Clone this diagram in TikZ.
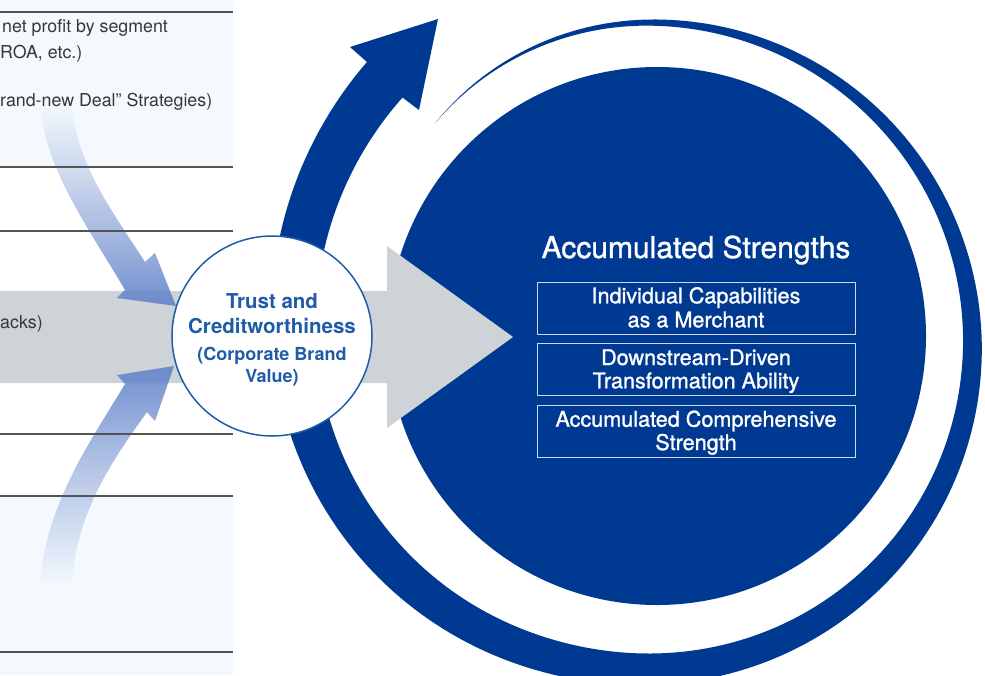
\documentclass[tikz,border=0pt]{standalone}
\usepackage{fontspec}
\setmainfont{TeX Gyre Heros}
\newfontfamily\medfont[FakeBold=1.2]{TeX Gyre Heros}
\usetikzlibrary{fadings}

\definecolor{deepblue}{RGB}{0,57,145}
\definecolor{trustblue}{RGB}{30,92,168}
\definecolor{shaftgray}{RGB}{205,211,214}
\definecolor{panelblue}{RGB}{244,249,254}
\definecolor{rulegray}{RGB}{85,85,85}
\definecolor{textgray}{RGB}{55,55,55}
\definecolor{flowblue}{RGB}{98,132,202}
\definecolor{boxline}{RGB}{205,214,236}

\tikzfading[name=fadeup, top color=transparent!100, bottom color=transparent!10]
\tikzfading[name=fadedown, top color=transparent!10, bottom color=transparent!100]

\begin{document}
\begin{tikzpicture}[x=1pt, y=-1pt,
  declare function={
    % spiral band: mid radius and width, by angle (clockwise from east)
    ramp(\t)=max(\t-105,-100);
    grow(\t)=0.22*(ramp(\t)+sqrt(ramp(\t)*ramp(\t)+400));
    lead(\t)=max(0,-90-\t);
    rmid(\t)=322+grow(\t)-0.007*lead(\t)*lead(\t);
    thk(\t)=0.14*(\t+134);
  },
  panel/.style={fill=panelblue},
  rowrule/.style={draw=rulegray, line width=1.3pt},
  sidetext/.style={anchor=base west, inner sep=0, text=textgray,
    font=\fontsize{17.8}{20}\selectfont},
  trusttext/.style={anchor=base, inner sep=0, text=trustblue,
    font=\bfseries\fontsize{20.5}{24}\selectfont},
  brandtext/.style={anchor=base, inner sep=0, text=trustblue,
    font=\bfseries\fontsize{18}{22}\selectfont},
  strbox/.style={draw=boxline, line width=0.9pt, minimum width=318,
    minimum height=52, inner sep=0},
  strtext/.style={anchor=base, inner sep=0, text=white,
    font=\medfont\fontsize{21.6}{24}\selectfont},
  flow/.style={fill=flowblue}
]
\useasboundingbox (0,0) rectangle (985,675);
\clip (0,0) rectangle (985,675);

% left-hand list panels
\fill[panel] (0,0) rectangle (233,167);
\fill[panel] (0,496) rectangle (233,675);

% spiral band with arrowhead around the core
\fill[deepblue]
  plot[domain=-134:225, samples=240, variable=\a]
    ({650+(rmid(\a)+thk(\a)/2)*cos(\a)},{345+(rmid(\a)+thk(\a)/2)*sin(\a)})
  -- (350,47) -- (438,19) -- (419,110)
  -- plot[domain=225:-134, samples=240, variable=\a]
    ({650+(rmid(\a)-thk(\a)/2)*cos(\a)},{345+(rmid(\a)-thk(\a)/2)*sin(\a)})
  -- cycle;

% core circle
\node[circle, fill=deepblue, minimum size=538, inner sep=0] (core) at (657,336) {};

% broad grey arrow into the core
\fill[shaftgray] (0,291) -- (387,291) -- (387,246) -- (513,337)
  -- (387,428) -- (387,383) -- (0,383) -- cycle;

% curved inflow arrows
\fill[flow, path fading=fadeup]
  (40,105) .. controls (45,170) and (90,230) .. (125,290)
  -- (117,298) -- (176,306) -- (155,253) -- (145,262)
  .. controls (115,215) and (76,165) .. (72,105) -- cycle;
\fill[flow, path fading=fadedown]
  (40,585) .. controls (45,505) and (90,442) .. (125,384)
  -- (117,375) -- (174,366) -- (155,421) -- (147,412)
  .. controls (115,457) and (76,510) .. (72,585) -- cycle;

% trust node
\node[circle, draw=trustblue, line width=1.5pt, fill=white,
  minimum size=200, inner sep=0] (trust) at (272,336) {};
\node[trusttext] (trustA) at (272,308) {Trust and};
\node[trusttext] (trustB) at (272,333) {Creditworthiness};
\node[brandtext] (brandA) at (272,360.5) {(Corporate Brand};
\node[brandtext] (brandB) at (272,382) {Value)};

% row rules of the list
\foreach \ry in {12,167,231,434,496,652}
  \draw[rowrule] (0,\ry) -- (233,\ry);

% list texts
\node[sidetext] (l1) at (2,32.5) {net profit by segment};
\node[sidetext] (l2) at (0,58) {ROA, etc.)};
\node[sidetext] (l3) at (0,106) {rand-new Deal” Strategies)};
\node[sidetext] (l4) at (0,328) {acks)};

% accumulated strengths
\node[anchor=base, inner sep=0, text=white,
  font=\medfont\fontsize{30}{34}\selectfont]
  (title) at (696,258) {Accumulated Strengths};
\node[strbox] (s1) at (696,308.5) {};
\node[strbox] (s2) at (696,369) {};
\node[strbox] (s3) at (696,431) {};
\node[strtext] (s1a) at (696,303.3) {Individual Capabilities};
\node[strtext] (s1b) at (696,327.3) {as a Merchant};
\node[strtext] (s2a) at (696,365) {Downstream-Driven};
\node[strtext] (s2b) at (696,388.3) {Transformation Ability};
\node[strtext] (s3a) at (696,426.7) {Accumulated Comprehensive};
\node[strtext] (s3b) at (696,450) {Strength};
\end{tikzpicture}
\end{document}
